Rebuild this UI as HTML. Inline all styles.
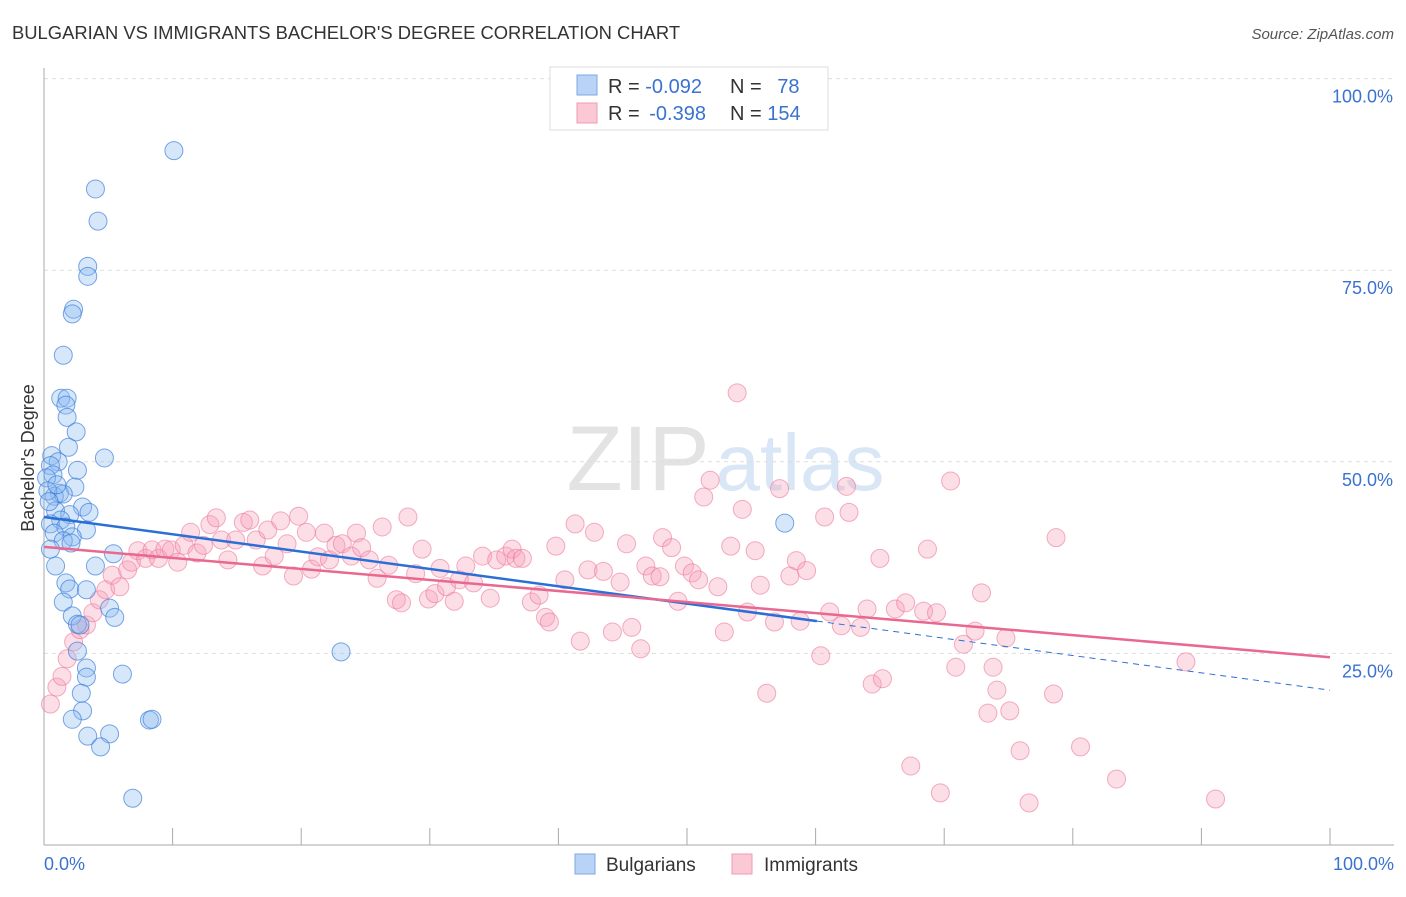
<!DOCTYPE html>
<html><head><meta charset="utf-8"><style>
body{margin:0;background:#fff;font-family:"Liberation Sans",sans-serif}
svg text{font-family:"Liberation Sans",sans-serif}
</style></head><body>
<svg width="1406" height="892" viewBox="0 0 1406 892">
<text x="12" y="39" font-size="18.4" fill="#333">BULGARIAN VS IMMIGRANTS BACHELOR'S DEGREE CORRELATION CHART</text>
<text x="1394" y="39" font-size="15" fill="#555" text-anchor="end" font-style="italic">Source: ZipAtlas.com</text>
<g><text x="638" y="490" font-size="92" fill="#ddd" text-anchor="middle" font-family="Liberation Serif" opacity="0.8">ZIP</text><text x="800" y="490" font-size="80" fill="#c9dcf2" text-anchor="middle" opacity="0.7">atlas</text></g>
<g id="grid"></g>
<g id="axes"></g>
<g id="pts"></g>
<g id="trend"></g>
<text transform="translate(34,458) rotate(-90)" font-size="18" fill="#333" text-anchor="middle">Bachelor's Degree</text>
<g>
<rect x="550" y="67" width="278" height="63" fill="#fff" stroke="#ddd"/>
<rect x="577" y="75" width="20" height="20" fill="#b8d3f5" stroke="#7aa8e6"/>
<rect x="577" y="103" width="20" height="20" fill="#fbc8d6" stroke="#f09ab2"/>
<text x="608" y="93" font-size="20" fill="#333">R = <tspan fill="#3a72d0">-0.092</tspan></text>
<text x="730" y="93" font-size="20" fill="#333">N = <tspan fill="#3a72d0" dx="10">78</tspan></text>
<text x="608" y="120" font-size="20" fill="#333">R = <tspan fill="#3a72d0" dx="4">-0.398</tspan></text>
<text x="730" y="120" font-size="20" fill="#333">N = <tspan fill="#3a72d0">154</tspan></text>
</g>
<g>
<rect x="575" y="854" width="20" height="20" fill="#b8d3f5" stroke="#7aa8e6"/>
<text x="606" y="871" font-size="19" fill="#333">Bulgarians</text>
<rect x="732" y="854" width="20" height="20" fill="#fbc8d6" stroke="#f09ab2"/>
<text x="764" y="871" font-size="19" fill="#333">Immigrants</text>
</g>
</svg>
<script>
const yTicks=[25,50,75,100];
const yTickLabels=["25.0%","50.0%","75.0%","100.0%"];
const xTicks=[0,10,20,30,40,50,60,70,80,90,100];
const bulX=[10.1,4.0,4.2,3.4,3.4,2.3,2.2,1.5,1.3,1.8,1.7,1.8,2.5,1.9,4.7,0.6,1.1,0.5,2.6,0.7,0.2,2.4,1.2,0.8,1.5,3.0,3.5,0.9,2.0,1.3,0.5,1.7,3.3,0.8,2.2,1.5,0.5,5.4,0.9,4.0,1.7,2.0,3.3,1.5,5.1,5.5,2.2,2.6,2.8,2.6,3.3,3.3,6.1,2.9,3.0,2.2,8.2,8.4,3.4,5.1,4.4,6.9,23.1,57.6,0.3,1.0,0.4,2.1];
const bulY=[90.6,85.6,81.4,75.5,74.2,69.9,69.3,63.9,58.3,58.3,57.4,55.8,53.9,51.9,50.5,50.8,50.0,49.5,48.9,48.3,47.9,46.7,45.9,45.5,45.8,44.1,43.4,43.6,43.1,42.4,41.9,41.5,41.1,40.7,40.2,39.7,38.6,38.0,36.4,36.4,34.2,33.4,33.3,31.7,30.9,29.7,29.9,28.8,28.7,25.3,23.1,21.9,22.3,19.8,17.5,16.4,16.3,16.4,14.2,14.5,12.8,6.1,25.2,42.0,46.2,47.0,44.8,39.4];
const immX=[0.5,1.0,1.4,1.8,2.3,2.8,3.3,3.8,4.3,4.8,5.3,5.9,6.5,6.8,7.3,7.9,8.4,8.9,9.4,9.9,10.4,10.9,11.4,11.9,12.4,12.9,13.4,13.8,14.3,14.9,15.5,16.0,16.5,17.0,17.4,17.9,18.4,18.9,19.4,19.8,20.4,20.8,21.3,21.8,22.2,22.7,23.2,23.9,24.3,24.7,25.3,25.9,26.3,26.8,27.4,27.8,28.3,28.9,29.4,29.9,30.4,30.8,31.3,31.9,32.3,32.8,33.4,34.1,34.7,35.2,35.9,36.4,36.7,37.2,37.9,38.5,39.0,39.3,39.8,40.5,41.3,41.7,42.3,42.8,43.5,44.2,44.8,45.3,45.7,46.4,46.8,47.3,47.9,48.1,48.8,49.3,49.8,50.4,50.9,51.3,51.8,52.4,52.9,53.4,54.3,54.7,55.3,55.7,56.2,53.9,56.8,57.2,58.0,58.5,58.8,59.3,60.4,60.7,61.1,62.0,62.6,62.4,63.5,64.0,64.4,65.0,65.2,66.2,67.0,67.4,68.4,68.7,69.4,69.7,70.5,70.9,71.5,72.4,72.9,73.4,73.8,74.1,74.8,75.1,75.9,76.6,78.5,78.7,80.6,83.4,88.8,91.1];
const immY=[18.4,20.6,22.0,24.3,26.5,28.1,28.7,30.3,32.0,33.3,35.2,33.7,35.9,36.9,38.4,37.4,38.5,37.4,38.6,38.5,36.9,39.1,40.8,38.1,39.1,41.8,42.7,39.8,37.2,39.8,42.1,42.4,39.8,36.4,41.1,37.7,42.3,39.3,35.1,42.9,40.8,36.0,37.6,40.7,37.2,39.1,39.3,37.7,40.7,38.8,37.2,34.8,41.5,36.5,32.0,31.6,42.8,35.4,38.6,32.1,32.8,36.1,33.7,31.8,34.6,36.4,34.2,37.7,32.2,37.2,37.7,38.6,37.4,37.4,31.7,32.6,29.7,29.1,39.0,34.6,41.9,26.6,35.9,40.8,35.7,27.8,34.3,39.3,28.4,25.6,36.4,35.1,35.0,40.1,38.8,31.8,36.4,35.5,34.6,45.4,47.6,33.7,27.8,39.0,43.8,30.4,38.4,33.9,19.8,59.0,29.1,46.5,35.1,37.1,29.2,35.8,24.7,42.8,30.4,28.6,43.4,46.8,28.4,30.8,21.0,37.4,21.7,30.8,31.6,10.3,30.5,38.6,30.3,6.8,47.5,23.2,26.2,27.9,32.9,17.2,23.2,20.2,27.0,17.5,12.3,5.5,19.7,40.1,12.8,8.6,23.9,6.0];
const bulTrend=[42.8,20.2], bulSolidEnd=60.1;
const immTrend=[38.9,24.5];
const NS='http://www.w3.org/2000/svg';
const X=v=>44+v*12.86, Y=v=>845-v*7.664;
function mk(t,a,p){const e=document.createElementNS(NS,t);for(const k in a)e.setAttribute(k,a[k]);document.getElementById(p).appendChild(e);return e;}
yTicks.forEach((t,i)=>{
 const g=mk('line',{x1:44,x2:1394,y1:Y(t),y2:Y(t),stroke:'#ddd','stroke-dasharray':'4,4'},'grid');
 
 
 const l=mk('text',{x:1393,y:Y(t)+24,'font-size':18,fill:'#3a72d0','text-anchor':'end'},'axes');
 l.textContent=yTickLabels[i];
 
 
});
const ax=mk('line',{x1:44,x2:44,y1:68,y2:845,stroke:'#aaa'},'axes');


const bx=mk('line',{x1:44,x2:1394,y1:845,y2:845,stroke:'#aaa'},'axes');


xTicks.forEach(t=>{
 const e=mk('line',{x1:X(t),x2:X(t),y1:828,y2:845,stroke:'#aaa'},'axes');
 
 
});
[[0,'0.0%','start',44],[100,'100.0%','end',1394]].forEach(d=>{
 const l=mk('text',{x:d[3],y:870,'font-size':18,fill:'#3a72d0','text-anchor':d[2]},'axes');
 l.textContent=d[1];
 
 
});
immX.forEach((v,i)=>{
 const c=mk('circle',{cx:X(v),cy:Y(immY[i]),r:9,fill:'rgba(246,160,185,0.35)',stroke:'rgba(236,120,155,0.6)','stroke-width':1},'pts');
 
 
});
bulX.forEach((v,i)=>{
 const c=mk('circle',{cx:X(v),cy:Y(bulY[i]),r:9,fill:'rgba(140,185,240,0.35)',stroke:'rgba(50,120,215,0.65)','stroke-width':1},'pts');
 
 
});
const by=x=>bulTrend[0]+(bulTrend[1]-bulTrend[0])*x/100;
let t1=mk('line',{x1:X(0),y1:Y(by(0)),x2:X(bulSolidEnd),y2:Y(by(bulSolidEnd)),stroke:'#2b6fd6','stroke-width':2.5},'trend');


let t2=mk('line',{x1:X(bulSolidEnd),y1:Y(by(bulSolidEnd)),x2:X(100),y2:Y(by(100)),stroke:'#2b6fd6','stroke-width':1,'stroke-dasharray':'6,5'},'trend');


let t3=mk('line',{x1:X(0),y1:Y(immTrend[0]),x2:X(100),y2:Y(immTrend[1]),stroke:'#e8688f','stroke-width':2.5},'trend');


</script>
</body></html>
